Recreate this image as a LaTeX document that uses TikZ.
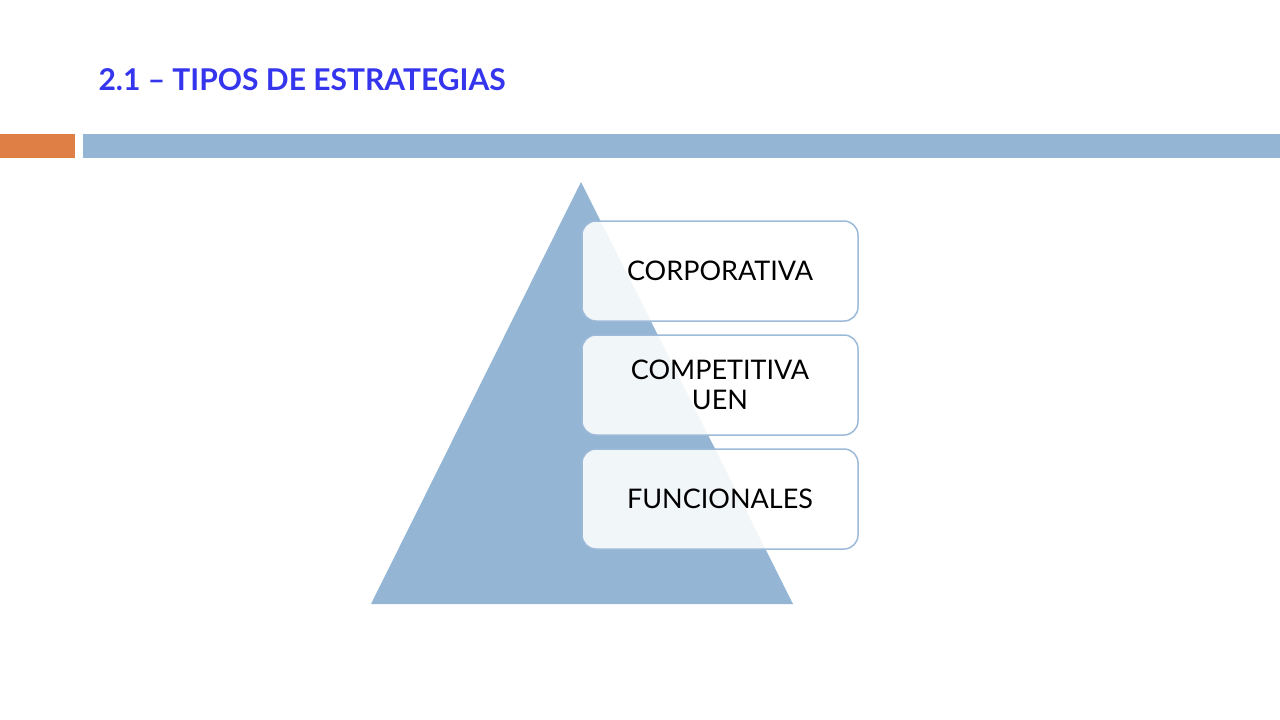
\documentclass[tikz,border=0pt]{standalone}
\usepackage{fontspec}
\setmainfont{Lato}
\definecolor{tblue}{HTML}{3535EE}
\definecolor{bar}{HTML}{94B5D3}
\definecolor{org}{HTML}{E07F45}
\definecolor{edge}{HTML}{9DBBD8}
\begin{document}
\begin{tikzpicture}[x=1pt,y=-1pt,
  lvl/.style={draw=edge,line width=1.5pt,rounded corners=14pt,fill=white,fill opacity=0.88,text opacity=1,
    minimum width=276pt,minimum height=100pt,align=center,font=\fontsize{27}{30}\selectfont,inner sep=0pt}]
\useasboundingbox (0,0) rectangle (1280,720);
\node[anchor=base west,text=tblue,font=\fontsize{30}{32}\selectfont\bfseries] (title) at (95,90) {2.1 – TIPOS DE ESTRATEGIAS};
\fill[org] (0,134) rectangle (75,158);
\fill[bar] (83,134) rectangle (1280,158);
\fill[bar] (581,182) -- (793,604) -- (371,604) -- cycle;
\node[lvl] (c) at (720,271) {CORPORATIVA};
\node[lvl] (k) at (720,385) {COMPETITIVA\\UEN};
\node[lvl] (f) at (720,499) {FUNCIONALES};
\end{tikzpicture}
\end{document}
